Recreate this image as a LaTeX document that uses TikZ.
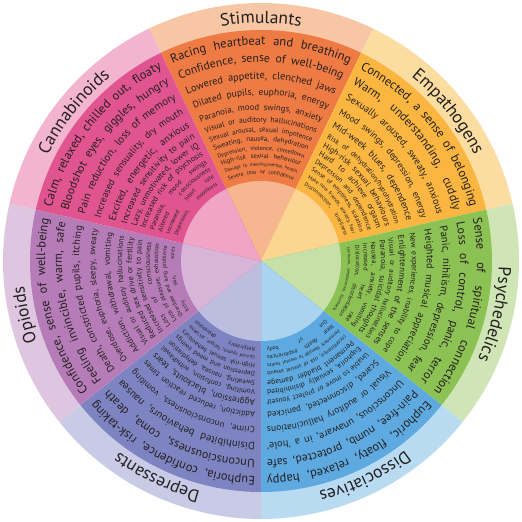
\documentclass[tikz,border=0pt]{standalone}
\usepackage{fontspec}
\setmainfont{PT Sans}
\usetikzlibrary{decorations.text}

\definecolor{ink}{HTML}{231F20}
\definecolor{stimOut}{HTML}{F6C6A5}
\definecolor{stimMid}{HTML}{EE7B43}
\definecolor{stimIn}{HTML}{F5B690}
\definecolor{empOut}{HTML}{FCDDA1}
\definecolor{empMid}{HTML}{FAB640}
\definecolor{empIn}{HTML}{FDD592}
\definecolor{psyOut}{HTML}{CFE5B5}
\definecolor{psyMid}{HTML}{8CC153}
\definecolor{psyIn}{HTML}{C6E0A7}
\definecolor{disOut}{HTML}{B9DBF2}
\definecolor{disMid}{HTML}{5EAAE0}
\definecolor{disIn}{HTML}{AAD3F0}
\definecolor{depOut}{HTML}{C9CBE6}
\definecolor{depMid}{HTML}{7D84C1}
\definecolor{depIn}{HTML}{BCBEDF}
\definecolor{opiOut}{HTML}{DEC6E0}
\definecolor{opiMid}{HTML}{B67CB7}
\definecolor{opiIn}{HTML}{D7B5D8}
\definecolor{canOut}{HTML}{F3B4CF}
\definecolor{canMid}{HTML}{E0558F}
\definecolor{canIn}{HTML}{F0A5C6}

\newlength{\fxlen}
\newsavebox{\fxbox}
% one line of effects: centre angle, radius, font size, text
\newcommand{\fxline}[4]{%
  \pgfmathsetmacro{\pa}{#1+25.714-6/#2*57.3}%
  \pgfmathsetmacro{\pb}{#1-25.714+6/#2*57.3}%
  \pgfmathsetmacro{\avail}{#2*0.8976-12}%
  \begin{pgfinterruptpicture}%
    \normalfont\fontsize{#3}{#3}\selectfont
    \global\setbox\fxbox=\hbox{#4}%
  \end{pgfinterruptpicture}%
  \setlength{\fxlen}{\wd\fxbox}%
  \ifdim\fxlen<1pt \setlength{\fxlen}{1pt}\fi
  \pgfmathsetmacro{\fs}{min(#3,0.95*#3*\avail/\fxlen)}%
  \path[decorate,decoration={text along path,
      text align={fit to path stretching spaces},
      text={|\fontsize{\fs}{\fs}\selectfont\color{ink}|#4}}]
    (\pa:#2pt) arc[start angle=\pa,end angle=\pb,radius=#2pt];
}
% drug class name on the outer ring
\newcommand{\drugname}[2]{%
  \path[decorate,decoration={text along path,text align=center,
      text={|\fontsize{17.5}{17.5}\selectfont\color{ink}|#2}}]
    (#1+25:238pt) arc[start angle=#1+25,end angle=#1-25,radius=238pt];
}

\begin{document}
\begin{tikzpicture}
		
		\useasboundingbox (-261pt,-261pt) rectangle (261pt,261pt);
		
		% Rings
		
		\foreach \ang/\cout/\cmid/\cin in {90/stimOut/stimMid/stimIn,
			38.571/empOut/empMid/empIn, -12.857/psyOut/psyMid/psyIn,
			-64.286/disOut/disMid/disIn, -115.714/depOut/depMid/depIn,
			-167.143/opiOut/opiMid/opiIn, 141.429/canOut/canMid/canIn}{
			\fill[\cout] (0,0) -- (\ang+25.714:258pt) arc[start angle=\ang+25.714,end angle=\ang-25.714,radius=258pt] -- cycle;
			\fill[\cmid] (0,0) -- (\ang+25.714:231pt) arc[start angle=\ang+25.714,end angle=\ang-25.714,radius=231pt] -- cycle;
			\fill[\cin] (0,0) -- (\ang+25.714:80pt) arc[start angle=\ang+25.714,end angle=\ang-25.714,radius=80pt] -- cycle;
		}
		
		% Names
		
		\drugname{90}{Stimulants}
		\drugname{38.571}{Empathogens}
		\drugname{-12.857}{Psychedelics}
		\drugname{-64.286}{Dissociatives}
		\drugname{-115.714}{Depressants}
		\drugname{-167.143}{Opioids}
		\drugname{141.429}{Cannabinoids}
		
		% Stimulants
		
		\fxline{90}{216}{12.5}{Racing heartbeat and breathing}
		\fxline{90}{199}{12}{Confidence, sense of well-being}
		\fxline{90}{182}{11.5}{Lowered appetite, clenched jaws}
		\fxline{90}{166}{11}{Dilated pupils, euphoria, energy}
		\fxline{90}{151}{10}{Paranoia, mood swings, anxiety}
		\fxline{90}{139}{9}{Visual or auditory hallucinations}
		\fxline{90}{129}{8.5}{Sexual arousal, sexual impotence}
		\fxline{90}{120}{8}{Sweating, nausea, dehydration}
		\fxline{90}{111}{7}{Depression, violence, comedown}
		\fxline{90}{103}{6.5}{High-risk sexual behaviour}
		\fxline{90}{95}{6}{Damage to memory/mental health}
		\fxline{90}{87}{5.5}{Severe loss of confidence}
		
		% Empathogens
		
		\fxline{38.571}{216}{12.5}{Connected, a sense of belonging}
		\fxline{38.571}{199}{12}{Warm, understanding, cuddly}
		\fxline{38.571}{182}{11.5}{Sexually aroused, sweaty, anxious}
		\fxline{38.571}{166}{11}{Mood swings, depression, energy}
		\fxline{38.571}{151}{10}{Mid-week blues, dependence}
		\fxline{38.571}{139}{9}{Risk of dehydration/hypohydration}
		\fxline{38.571}{129}{8.5}{High-risk sexual behaviours}
		\fxline{38.571}{120}{8}{Hard to achieve orgasm}
		\fxline{38.571}{111}{7}{Depression and dependence}
		\fxline{38.571}{103}{6.5}{Sense of emptiness, isolation}
		\fxline{38.571}{95}{6}{Make new friends, anxiety, fear}
		\fxline{38.571}{87}{5.5}{Disconnection, loneliness}
		
		% Psychedelics
		
		\fxline{-12.857}{216}{12.5}{Sense of spiritual connection}
		\fxline{-12.857}{199}{12}{Loss of control, panic, terror}
		\fxline{-12.857}{182}{11.5}{Panic, nihilism, depression, fear}
		\fxline{-12.857}{166}{11}{Heighted musical appreciation}
		\fxline{-12.857}{151}{10}{New experiences, inability to cope}
		\fxline{-12.857}{139}{9}{Enlightenment of the senses}
		\fxline{-12.857}{129}{8.5}{Visual or auditory hallucinations}
		\fxline{-12.857}{120}{8}{Paranoia, suicidal thoughts}
		\fxline{-12.857}{111}{7}{Nausea, anxiety, vomiting}
		\fxline{-12.857}{103}{6.5}{Increased heart rate}
		\fxline{-12.857}{95}{6}{Dislocation, disorientation}
		\fxline{-12.857}{87}{5.5}{Confusion, sleeplessness, flashbacks}
		
		% Dissociatives
		
		\fxline{-64.286}{216}{12.5}{Euphoric, floaty, relaxed, happy}
		\fxline{-64.286}{199}{12}{Pain-free, numb, protected, safe}
		\fxline{-64.286}{182}{11.5}{Unconscious, unaware, in a 'hole'}
		\fxline{-64.286}{166}{11}{Visual or auditory hallucinations}
		\fxline{-64.286}{151}{10}{Scared, disconnected, panicked}
		\fxline{-64.286}{139}{9}{Unable to move or protect youself}
		\fxline{-64.286}{129}{8.5}{Euphoria, sexually disinhibited}
		\fxline{-64.286}{120}{8}{Permanent bladder damage}
		\fxline{-64.286}{111}{7}{Incontinence, risk of sexual assault}
		\fxline{-64.286}{103}{6.5}{Permanent damage to mental health}
		\fxline{-64.286}{95}{6}{Near death experiences}
		\fxline{-64.286}{87}{5.5}{Out of body}
		
		% Depressants
		
		\fxline{-115.714}{216}{12.5}{Euphoria, confidence, risk-taking}
		\fxline{-115.714}{199}{12}{Unconsciousness, coma, death}
		\fxline{-115.714}{182}{11.5}{Disinhibited behaviours, nausea}
		\fxline{-115.714}{166}{11}{Crime, unconsciousness, vomiting}
		\fxline{-115.714}{151}{10}{Addiction, reduced reaction times}
		\fxline{-115.714}{139}{9}{Aggression, blackouts, tears}
		\fxline{-115.714}{129}{8.5}{Vomiting, confusion, withdrawal}
		\fxline{-115.714}{120}{8}{Sweating, nausea, dehydration}
		\fxline{-115.714}{111}{7}{Depression and mood swings}
		\fxline{-115.714}{103}{6.5}{High-risk sexual behaviours}
		\fxline{-115.714}{95}{6}{Slurred speech, fatigue, accidents}
		\fxline{-115.714}{87}{5.5}{Respiratory depression}
		
		% Opioids
		
		\fxline{-167.143}{216}{12.5}{Confidence, sense of well-being}
		\fxline{-167.143}{199}{12}{Feeling invincible, warm, safe}
		\fxline{-167.143}{182}{11.5}{Death, constricted pupils, itching}
		\fxline{-167.143}{166}{11}{Overdose, euphoria, sleepy, sweaty}
		\fxline{-167.143}{151}{10}{Addiction, withdrawal, vomiting}
		\fxline{-167.143}{139}{9}{Visual or auditory hallucinations}
		\fxline{-167.143}{129}{8.5}{Reduced sex drive or fertility}
		\fxline{-167.143}{120}{8}{Increased sensitivity to pain}
		\fxline{-167.143}{111}{7}{Loss of consciousness}
		\fxline{-167.143}{103}{6.5}{Loss of pleasure, exhaustion}
		\fxline{-167.143}{95}{6}{Overdose and lung problems}
		\fxline{-167.143}{87}{5.5}{Itchy skin, sores}
		
		% Cannabinoids
		
		\fxline{141.429}{216}{12.5}{Calm, relaxed, chilled out, floaty}
		\fxline{141.429}{199}{12}{Bloodshot eyes, giggles, hungry}
		\fxline{141.429}{182}{11.5}{Pain reduction, loss of memory}
		\fxline{141.429}{166}{11}{Increased sensuality, dry mouth}
		\fxline{141.429}{151}{10}{Excited, energetic, anxious}
		\fxline{141.429}{139}{9}{Increased sensitivity to pain}
		\fxline{141.429}{129}{8.5}{Lazy, unmotivated, lower IQ}
		\fxline{141.429}{120}{8}{Increased risk of psychosis}
		\fxline{141.429}{111}{7}{Paranoia, mood swings}
		\fxline{141.429}{103}{6.5}{Altered consciousness}
		\fxline{141.429}{95}{6}{Increased heart rate}
		\fxline{141.429}{87}{5.5}{Depression, moodiness}
		
	\end{tikzpicture}
\end{document}
